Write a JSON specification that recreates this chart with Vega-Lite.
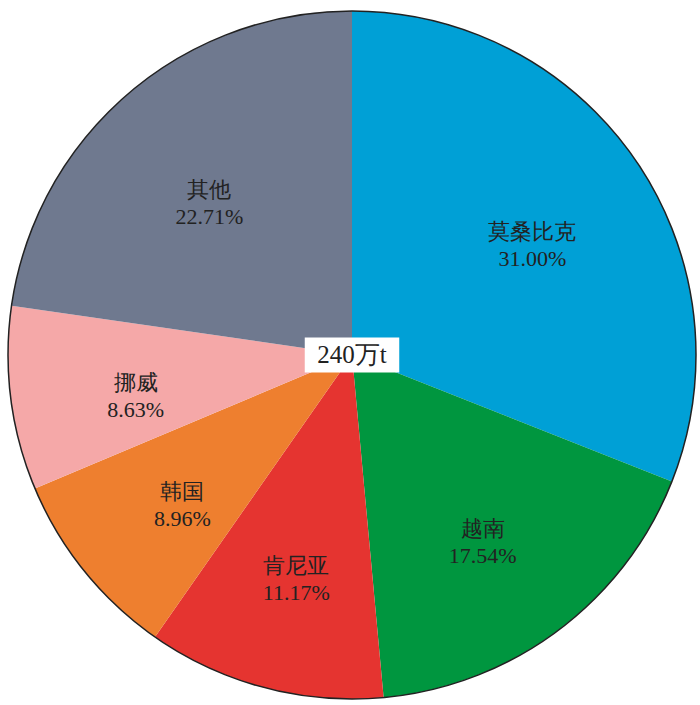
{
  "$schema": "https://vega.github.io/schema/vega-lite/v6.json",
  "width": 700,
  "height": 705,
  "autosize": {"type": "fit", "contains": "padding"},
  "padding": {"left": 4, "top": 5, "right": 0, "bottom": 0},
  "background": "white",
  "view": {"stroke": null},
  "datasets": {
    "slices": [
      {"name": "莫桑比克", "pct": 31.00, "rank": 1, "label": "莫桑比克\n31.00%"},
      {"name": "越南", "pct": 17.54, "rank": 2, "label": "越南\n17.54%"},
      {"name": "肯尼亚", "pct": 11.17, "rank": 3, "label": "肯尼亚\n11.17%"},
      {"name": "韩国", "pct": 8.96, "rank": 4, "label": "韩国\n8.96%"},
      {"name": "挪威", "pct": 8.63, "rank": 5, "label": "挪威\n8.63%"},
      {"name": "其他", "pct": 22.71, "rank": 6, "label": "其他\n22.71%"}
    ]
  },
  "resolve": {"scale": {"theta": "independent"}},
  "layer": [
    {
      "data": {"name": "slices"},
      "mark": {"type": "arc", "outerRadius": 344},
      "encoding": {
        "theta": {"field": "pct", "type": "quantitative", "stack": true},
        "order": {"field": "rank", "type": "quantitative"},
        "color": {
          "field": "name",
          "type": "nominal",
          "scale": {
            "domain": ["莫桑比克", "越南", "肯尼亚", "韩国", "挪威", "其他"],
            "range": ["#00A0D6", "#00963F", "#E53430", "#EE7F2F", "#F5A8A8", "#6F798F"]
          },
          "legend": null
        }
      }
    },
    {
      "data": {"values": [{"v": 1}]},
      "mark": {"type": "arc", "filled": false, "stroke": "#222222", "strokeWidth": 1.5, "outerRadius": 344},
      "encoding": {
        "theta": {"field": "v", "type": "quantitative", "stack": true}
      }
    },
    {
      "data": {"name": "slices"},
      "mark": {
        "type": "text",
        "radius": 218,
        "fontSize": 22,
        "font": "Liberation Serif",
        "color": "#222222",
        "lineBreak": "\n",
        "lineHeight": 27,
        "align": "center",
        "baseline": "middle"
      },
      "encoding": {
        "theta": {"field": "pct", "type": "quantitative", "stack": true},
        "order": {"field": "rank", "type": "quantitative"},
        "text": {"field": "label", "type": "nominal"}
      }
    },
    {
      "data": {"values": [{"label": "240万t"}]},
      "mark": {
        "type": "point",
        "shape": "M-1.35,-0.5H1.35V0.5H-1.35Z",
        "size": 4900,
        "filled": true,
        "fill": "white",
        "opacity": 1,
        "strokeWidth": 0
      },
      "encoding": {}
    },
    {
      "data": {"values": [{"label": "240万t"}]},
      "mark": {
        "type": "text",
        "fontSize": 25,
        "font": "Liberation Serif",
        "color": "#222222",
        "align": "center",
        "baseline": "middle"
      },
      "encoding": {
        "text": {"field": "label", "type": "nominal"}
      }
    }
  ]
}
